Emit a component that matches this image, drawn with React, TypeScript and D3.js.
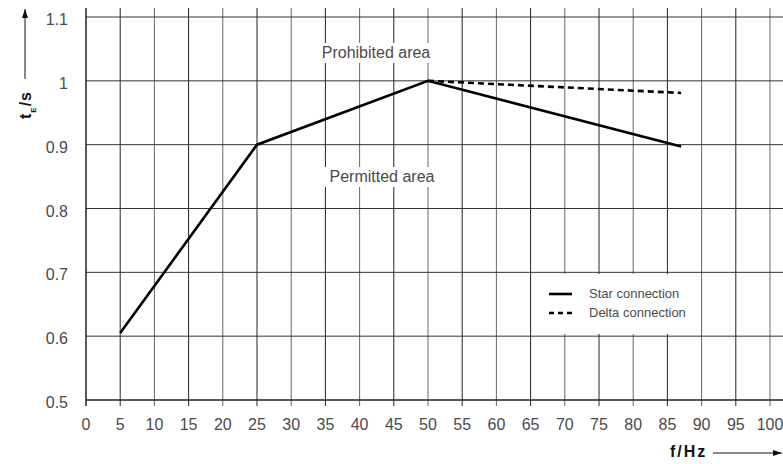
import React, { useRef, useEffect } from "react";
import * as d3 from "d3";

const width = 783;
const height = 464;

const xTicks = d3.range(0, 101, 5);
const yTicks = [0.5, 0.6, 0.7, 0.8, 0.9, 1, 1.1];
const starF = [5, 25, 50, 87];
const starT = [0.605, 0.9, 1.0, 0.897];
const deltaF = [50, 87];
const deltaT = [1.0, 0.981];
const legendLabels = ["Star connection", "Delta connection"];

const font = "'Liberation Sans', Arial, Helvetica, sans-serif";

export default function App() {
  const svgRef = useRef<SVGSVGElement>(null);

  useEffect(() => {
    document.body.style.margin = "0";
    const svg = d3.select(svgRef.current);
    svg.selectAll("*").remove();

    const x = d3.scaleLinear().domain([0, 100]).range([86, 770]);
    const y = d3.scaleLinear().domain([0.5, 1.1]).range([400, 17]);
    const top = 8;
    const right = 783;

    svg
      .append("defs")
      .append("marker")
      .attr("id", "arr")
      .attr("viewBox", "0 0 10 10")
      .attr("refX", 10)
      .attr("refY", 5)
      .attr("markerWidth", 9)
      .attr("markerHeight", 6)
      .attr("markerUnits", "userSpaceOnUse")
      .attr("orient", "auto")
      .attr("preserveAspectRatio", "none")
      .append("path")
      .attr("d", "M0,0 L10,5 L0,10 Z")
      .attr("fill", "#111");

    // grid
    const grid = svg.append("g");
    grid
      .selectAll("line.v")
      .data(xTicks.slice(1))
      .enter()
      .append("line")
      .attr("x1", d => x(d))
      .attr("x2", d => x(d))
      .attr("y1", top)
      .attr("y2", 406)
      .attr("stroke", (d, i) => (i % 2 === 0 ? "#222" : "#666"))
      .attr("stroke-width", 1);
    grid
      .selectAll("line.h")
      .data(yTicks.slice(1))
      .enter()
      .append("line")
      .attr("x1", x(0))
      .attr("x2", right)
      .attr("y1", d => y(d))
      .attr("y2", d => y(d))
      .attr("stroke", "#333")
      .attr("stroke-width", 1);

    // axes
    svg
      .append("line")
      .attr("x1", x(0))
      .attr("x2", x(0))
      .attr("y1", top)
      .attr("y2", 406)
      .attr("stroke", "#222")
      .attr("stroke-width", 1.5);
    svg
      .append("line")
      .attr("x1", x(0))
      .attr("x2", right)
      .attr("y1", y(0.5))
      .attr("y2", y(0.5))
      .attr("stroke", "#222")
      .attr("stroke-width", 1.5);

    // tick labels
    svg
      .selectAll("text.xt")
      .data(xTicks)
      .enter()
      .append("text")
      .attr("x", d => x(d))
      .attr("y", 430)
      .attr("text-anchor", "middle")
      .attr("font-family", font)
      .attr("font-size", 16)
      .attr("fill", "#4a4a4a")
      .text(d => d);
    svg
      .selectAll("text.yt")
      .data(yTicks)
      .enter()
      .append("text")
      .attr("x", 68)
      .attr("y", d => y(d) + 8)
      .attr("text-anchor", "end")
      .attr("font-family", font)
      .attr("font-size", 16)
      .attr("fill", "#4a4a4a")
      .text(d => d);

    // area labels with white backing
    const areaLabels = [
      { text: "Prohibited area", cx: 376, by: 58 },
      { text: "Permitted area", cx: 382, by: 182 }
    ];
    areaLabels.forEach(a => {
      svg
        .append("rect")
        .attr("x", a.cx - 61)
        .attr("y", a.by - 15)
        .attr("width", 122)
        .attr("height", 20)
        .attr("fill", "#fff");
      svg
        .append("text")
        .attr("x", a.cx)
        .attr("y", a.by)
        .attr("text-anchor", "middle")
        .attr("font-family", font)
        .attr("font-size", 16)
        .attr("fill", "#4a4a4a")
        .text(a.text);
    });

    // lines
    const line = d3
      .line<[number, number]>()
      .x(d => x(d[0]))
      .y(d => y(d[1]));
    svg
      .append("path")
      .attr("d", line(starF.map((f, i) => [f, starT[i]])))
      .attr("fill", "none")
      .attr("stroke", "#000")
      .attr("stroke-width", 2.6);
    svg
      .append("path")
      .attr("d", line(deltaF.map((f, i) => [f, deltaT[i]])))
      .attr("fill", "none")
      .attr("stroke", "#000")
      .attr("stroke-width", 2.6)
      .attr("stroke-dasharray", "6,4");

    // legend
    svg
      .append("rect")
      .attr("x", 540)
      .attr("y", 274)
      .attr("width", 158)
      .attr("height", 60)
      .attr("fill", "#fff");
    legendLabels.forEach((l, i) => {
      const ly = 294 + i * 19;
      svg
        .append("line")
        .attr("x1", 549)
        .attr("x2", 572)
        .attr("y1", ly)
        .attr("y2", ly)
        .attr("stroke", "#000")
        .attr("stroke-width", 2.6)
        .attr("stroke-dasharray", i === 1 ? "5,4" : null);
      svg
        .append("text")
        .attr("x", 589)
        .attr("y", ly + 4)
        .attr("font-family", font)
        .attr("font-size", 13)
        .attr("fill", "#4a4a4a")
        .text(l);
    });

    // axis titles
    svg
      .append("line")
      .attr("x1", 25)
      .attr("x2", 25)
      .attr("y1", 79)
      .attr("y2", 9)
      .attr("stroke", "#111")
      .attr("stroke-width", 1)
      .attr("marker-end", "url(#arr)");
    const yt = svg
      .append("text")
      .attr("transform", "translate(31,105) rotate(-90)")
      .attr("text-anchor", "middle")
      .attr("font-family", font)
      .attr("font-size", 16)
      .attr("font-weight", "bold")
      .attr("letter-spacing", 1)
      .attr("fill", "#111");
    yt.append("tspan").text("t");
    yt.append("tspan").attr("font-size", 8).attr("dy", 5).text("E");
    yt.append("tspan").attr("dy", -5).text("/s");

    svg
      .append("text")
      .attr("x", 670)
      .attr("y", 457)
      .attr("font-family", font)
      .attr("font-size", 16)
      .attr("font-weight", "bold")
      .attr("letter-spacing", 2)
      .attr("fill", "#111")
      .text("f/Hz");
    svg
      .append("line")
      .attr("x1", 713)
      .attr("x2", 782)
      .attr("y1", 453)
      .attr("y2", 453)
      .attr("stroke", "#111")
      .attr("stroke-width", 1)
      .attr("marker-end", "url(#arr)");
  }, []);

  return <svg ref={svgRef} width={width} height={height} style={{ display: "block", background: "#fff" }} />;
}
